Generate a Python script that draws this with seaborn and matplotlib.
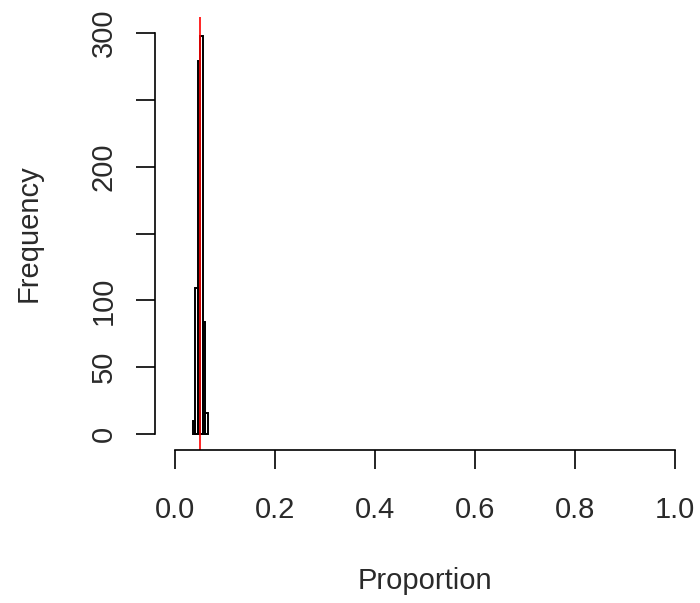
import numpy as np
import pandas as pd
import matplotlib
matplotlib.use("Agg")
import matplotlib.pyplot as plt
import seaborn as sns

# Data
bin_edges = [0.035, 0.040, 0.045, 0.050, 0.055, 0.060, 0.065]
counts = [10, 109, 279, 298, 84, 16]
true_prop = 0.05
x_ticks = [0.0, 0.2, 0.4, 0.6, 0.8, 1.0]
x_tick_labels = ["0.0", "0.2", "0.4", "0.6", "0.8", "1.0"]
y_ticks = [0, 50, 100, 150, 200, 250, 300]
y_tick_labels = ["0", "50", "100", "", "200", "", "300"]

centers = [(bin_edges[i] + bin_edges[i + 1]) / 2 for i in range(len(counts))]
df = pd.DataFrame({"Proportion": centers, "count": counts})

sns.set_theme(style="white")
plt.rcParams["font.family"] = ["Liberation Sans", "DejaVu Sans"]

fig = plt.figure(figsize=(7, 6.03), dpi=100)
ax = fig.add_axes([155 / 700, 1 - 450 / 603, 540 / 700, 433 / 603])

sns.histplot(data=df, x="Proportion", weights="count", bins=bin_edges,
             fill=False, color="black", linewidth=1.4, element="bars", ax=ax)
ax.axvline(true_prop, color="red", linewidth=1.2)

ax.set_xlim(-0.04, 1.04)
ax.set_ylim(-12, 312)
ax.set_xticks(x_ticks)
ax.set_xticklabels(x_tick_labels)
ax.set_yticks(y_ticks)
ax.set_yticklabels(y_tick_labels, rotation=90, va="center")

for s in ["top", "right"]:
    ax.spines[s].set_visible(False)
for s in ["left", "bottom"]:
    ax.spines[s].set_color("black")
    ax.spines[s].set_linewidth(1.2)
ax.spines["left"].set_bounds(0, 300)
ax.spines["bottom"].set_bounds(0, 1)

ax.tick_params(axis="both", which="major", direction="out", length=14,
               width=1.2, color="black", labelsize=21, labelcolor="#2a2a2a",
               left=True, bottom=True)
ax.tick_params(axis="y", pad=13)
ax.tick_params(axis="x", pad=19)

ax.set_xlabel("Proportion", fontsize=21, color="#2a2a2a", labelpad=31)
ax.set_ylabel("Frequency", fontsize=21, color="#2a2a2a", labelpad=34)
ax.grid(False)

fig.savefig("out.png", dpi=100, facecolor="white")
